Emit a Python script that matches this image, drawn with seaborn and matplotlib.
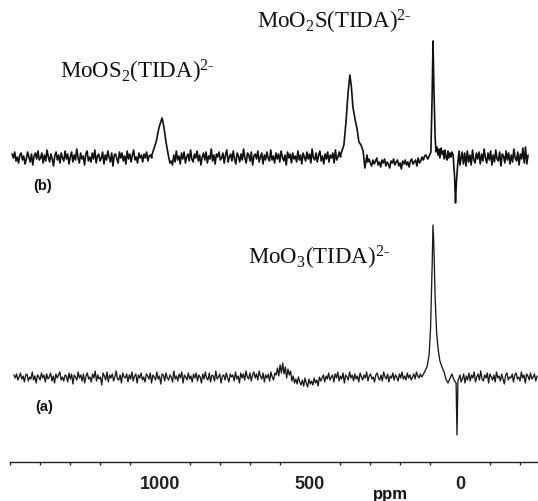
import numpy as np
import matplotlib.pyplot as plt
import seaborn as sns

# ppm scale: 0.3 px per ppm, 0 ppm at x=460 px
# trace (b): noise, px units above baseline
noise_b = [3, -1, 5, -4, 0, -6, 2, 4, -3, 1, -7, -2, 5, 0, -5, 3, -8, 1, 4, -2,
           6, -3, -1, 4, -6, 2, -4, 7, 0, -5, 3, -2, -9, 1, 5, -3, 2, -6, 4, -1,
           -4, 6, -2, 3, -7, 0, 5, -5, 2, -3, 8, -1, -6, 4, -2, 1, -8, 3, 6, -4,
           0, -5, 4, -2, 7, -6, 1, 3, -4, -1, 5, -7, 2, -3, 6, 0, -5, 4, -9, 2,
           3, -2, -6, 5, -1, 4, -4, 1, -7, 6, -2, 3, -5, 2, 7, -3, 0, -6, 4, -1,
           2, -5, 3, -1, 5, -4, 1, 2, -1, 0, 0, 0, 0, 0, 0, 0, 0, 0, 0, 0,
           0, 0, 0, -4, -8, 2, -5, 6, -3, 1, -7, 4, -2, 5, -6, 0, 3, -4, 7, -2,
           -5, 3, -1, 6, -4, 2, -8, 0, 4, -3, 5, -6, 1, -2, 8, -4, 2, -7, 3, 0,
           5, -3, -1, 4, -6, 2, 7, -5, 0, 3, -4, 6, -2, -7, 4, 1, -5, 3, -3, 8,
           -1, -6, 4, 2, -4, 5, -8, 1, 3, -2, 6, -5, 0, 4, -7, 2, -3, 5, -1, -4,
           7, -3, 1, -6, 4, -2, 3, -5, 6, 0, -4, 2, -8, 5, -1, 3, -6, 4, -2, 1,
           -5, 6, -3, 2, -7, 4, 0, -4, 5, -2, 3, -6, 8, -1, -3, 4, -5, 2, 6, -4,
           1, -7, 3, -2, 5, -5, 2, -1, 4, -6, 7, -3, 0, 5, 0, 0, 0, 0, 0, 0,
           0, 0, 0, 0, 0, 0, 0, 0, 0, 0, 0, 0, 0, 0, 0, -5, -2, -6, -9, -3,
           -7, -4, -1, -8, -5, -10, -3, -6, -2, -9, -5, -7, -11, -4, -6, -2, -8, -5, -3, -9,
           -6, -12, -4, -7, -3, -8, -5, -10, -4, -2, -7, -5, -3, -9, -1, -6, -4, 0, -3, 1,
           2, -1, 0, 0, 0, 0, 0, 0, 0, 0, 0, 0, 0, 0, 0, 0, 0, 0, 0, 0,
           0, 0, 0, 0, 0, 0, 0, -3, 5, -7, 4, -9, 6, -5, 2, -8, 7, -3, -6, 4,
           -2, 5, -7, 3, -4, 8, -1, -6, 4, -3, 6, -8, 2, -5, 7, -2, -4, 5, -9, 3,
           1, -6, 6, -3, 4, -7, 2, -5, 8, -1, -4, 5, -8, 3, -2, 9, -6, 10, -7, 2]
ppm_b_range = (1493, -227)

# peaks of trace (b)
pk1_ppm = [1027, 1013, 1003, 993, 987, 980, 973, 967]
pk1_h = [2, 15, 30, 39, 30, 15, 3, -6]
pk2_ppm = [397, 387, 380, 373, 367, 362, 357, 350, 343, 337, 330, 323, 317, 310]
pk2_h = [3, 12, 35, 65, 82, 70, 50, 38, 28, 15, 12, 6, -11, 2]
pk3_ppm = [107, 97, 93, 90, 87, 83, 80, 77, 73, 70, 67, 63, 60, 57, 53, 50, 47, 43, 40, 37,
           33, 30, 27, 23, 18, 15, 12, 7, 3, 0]
pk3_h = [-2, 5, 60, 116, 70, 20, 5, 10, 2, 8, -1, 9, 3, 6, -2, 7, 0, -3, 6, -1,
         4, 0, 5, 2, -20, -46, -25, -5, 6, -8]

# trace (a)
noise_a = [2, -1, 3, -3, 0, 4, -2, 1, -5, 2, 3, -4, 0, -2, 5, -3, 1, -6, 2, 0,
           -3, 4, -1, 2, -5, 3, -2, 0, 4, -4, 1, -6, 3, -1, 2, 5, -3, 0, -4, 2,
           1, -5, 4, -2, 3, -7, 2, 0, -3, 5, -1, 2, -4, 3, -6, 1, 4, -2, 0, -5,
           3, -1, 6, -4, 2, -2, 0, -8, 4, 1, -3, 5, -5, 2, -1, 3, -4, 0, 6, -2,
           -3, 2, -6, 4, 0, -1, 3, -5, 2, -2, 5, -4, 1, 3, -6, 2, -1, 4, -3, 0,
           -5, 3, 1, -2, 4, -6, 2, 0, -3, 5, -2, 1, -7, 3, 2, -4, 4, -1, -3, 2,
           0, -5, 6, -2, 1, -4, 3, -1, 5, -6, 2, 0, -3, 4, -2, 1, -5, 3, -1, 4,
           -4, 2, 0, -6, 3, -2, 5, -1, -3, 4, -5, 2, 1, -4, 6, -2, 0, 3, -6, 1,
           2, -3, 4, -1, -5, 3, 0, 2, -4, 5, -2, 1, -6, 4, -1, 3, -3, 6, 0, -2,
           4, -4, 2, 5, -1, 3, -3, 6, 1, -2, 4, -5, 2, -1, 3, -4, 5, 0, -3, 4,
           2, 9, 1, 12, 4, 14, 3, 10, -1, 8, 2, 6, -4, 1, -6, -2, -7, 0, -5, -8,
           -3, -9, -1, -6, -10, -2, -7, -4, -8, -1, -6, -3, -9, 0, -4, -1, 2, -5, 1, -2,
           4, -3, 0, 2, -5, 3, -1, 5, -4, 1, -2, 4, -6, 2, 0, -3, 5, -1, 2, -4,
           3, -2, 1, -5, 4, 0, -3, 2, -1, 5, -4, 1, 3, -2, 0, -5, 2, 4, -1, -3,
           2, -4, 5, 0, -2, 3, -5, 1, -1, 4, -3, 2, 0, -4, 3, -1, 5, -2, 1, -3,
           4, -1, 2, -3, 0, 3, -2, 5, 1, -1, 3, 0, 2, 4, 0, 0, 0, 0, 0, 0,
           0, 0, 0, 0, 0, 0, 0, 0, 0, 0, 0, 0, 0, 0, 0, 0, 0, 0, 0, 0,
           0, -5, -2, 3, -6, 1, -3, 4, -4, 2, -1, 5, -5, 0, 3, -3, 6, -2, -4, 2,
           -1, 4, -6, 3, 0, -3, 2, -5, 5, -1, 1, -4, 3, -2, -7, 2, 4, -3, 0, -1,
           3, -5, 2, 4, -2, 0, -4, 5, -1, 2, -6, 3, 1, -3, 4, -2, 0, 3, -4, 1]
ppm_a_range = (1487, -257)

pka_ppm = [120, 110, 103, 98, 93, 90, 87, 83, 78, 73, 67, 60, 53, 47, 40, 33, 27, 20, 13, 10, 7, 0]
pka_h = [4, 10, 22, 50, 110, 152, 130, 80, 45, 28, 16, 10, 5, -2, -6, -1, 3, -3, -6, -58, -4, 2]

labels = ["MoOS$_2$(TIDA)$^{\\text{2-}}$", "MoO$_2$S(TIDA)$^{\\text{2-}}$", "MoO$_3$(TIDA)$^{\\text{2-}}$"]
major_ticks = [1000, 500, 0]


def build_trace(noise, ppm_range, peaks):
    ppm = np.linspace(ppm_range[0], ppm_range[1], len(noise))
    y = np.array(noise, dtype=float)
    keep = np.ones(len(ppm), dtype=bool)
    for p, h in peaks:
        keep &= ~((ppm > min(p)) & (ppm < max(p)))
    xs = np.concatenate([ppm[keep]] + [np.array(p, float) for p, h in peaks])
    ys = np.concatenate([y[keep]] + [np.array(h, float) for p, h in peaks])
    order = np.argsort(-xs)
    return xs[order], ys[order]


sns.set_style("white")
plt.rcParams["mathtext.fontset"] = "custom"
plt.rcParams["mathtext.rm"] = "Liberation Serif"
plt.rcParams["mathtext.it"] = "Liberation Serif:italic"

W, H = 538, 501
fig = plt.figure(figsize=(W / 100, H / 100), dpi=100)
ax = fig.add_axes([0, 39 / H, 1, 462 / H])
ax.set_facecolor("white")

xb, yb = build_trace(noise_b, ppm_b_range, [(pk1_ppm, pk1_h), (pk2_ppm, pk2_h), (pk3_ppm, pk3_h)])
xa, ya = build_trace(noise_a, ppm_a_range, [(pka_ppm, pka_h)])

base_b = 462 - 157
base_a = 462 - 377
sns.lineplot(x=xb, y=yb + base_b, ax=ax, color="#111111", lw=1.2, sort=False, estimator=None)
sns.lineplot(x=xa, y=ya + base_a, ax=ax, color="#1a1a1a", lw=0.95, sort=False, estimator=None)

ax.set_xlim(460 / 0.3, (460 - 538) / 0.3)
ax.set_ylim(0, 462)

for s in ["top", "right", "left"]:
    ax.spines[s].set_visible(False)
ax.spines["bottom"].set_bounds(1500, -260)
ax.spines["bottom"].set_linewidth(1.0)
ax.spines["bottom"].set_color("#222222")
ax.set_yticks([])
ax.set_xticks(major_ticks)
ax.set_xticklabels([str(t) for t in major_ticks])
ax.set_xticks([t for t in range(1500, -300, -100) if t not in major_ticks], minor=True)
ax.tick_params(axis="x", which="major", direction="out", length=4.5, width=1, pad=5.5,
               labelsize=13, colors="#222222")
ax.tick_params(axis="x", which="minor", direction="out", length=2.5, width=1, bottom=True)
for lab in ax.get_xticklabels():
    lab.set_fontfamily("Liberation Sans")
    lab.set_fontweight("bold")
ax.set_xlabel("")


def fx(px):
    return px / W


def fy(py):
    return 1 - py / H


fig.text(fx(60), fy(72), labels[0], fontsize=16.5, family="Liberation Serif", va="center", ha="left", color="#111111")
fig.text(fx(257), fy(22), labels[1], fontsize=16.5, family="Liberation Serif", va="center", ha="left", color="#111111")
fig.text(fx(248), fy(258), labels[2], fontsize=16.5, family="Liberation Serif", va="center", ha="left", color="#111111")
fig.text(fx(33), fy(186), "(b)", fontsize=10.5, family="Liberation Sans", weight="bold", va="center", ha="left", color="#111111")
fig.text(fx(35), fy(407), "(a)", fontsize=10.5, family="Liberation Sans", weight="bold", va="center", ha="left", color="#111111")
fig.text(fx(390), fy(494), "ppm", fontsize=12, family="Liberation Sans", weight="bold", va="center", ha="center", color="#111111")

fig.savefig("out.png", dpi=100, facecolor="white")
